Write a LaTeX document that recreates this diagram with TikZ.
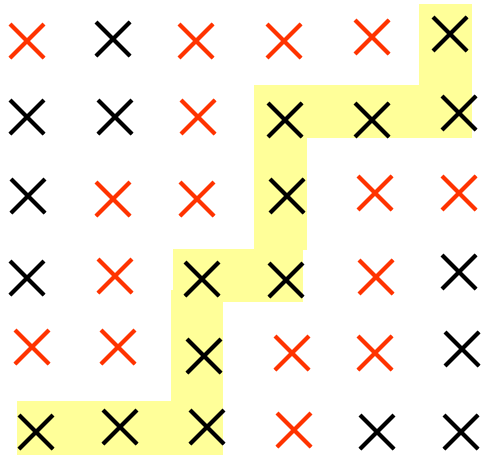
\documentclass[tikz,border=0pt]{standalone}
\usetikzlibrary{shapes.misc}
\definecolor{hl}{RGB}{255,255,153}
\definecolor{xred}{RGB}{255,51,0}
\tikzset{
  mk/.style={cross out, draw, line width=4pt, minimum size=34pt, inner sep=0pt, outer sep=0pt},
  rx/.style={mk, draw=xred},
  bx/.style={mk, draw=black},
  band/.style={fill=hl, draw=none}
}
\begin{document}
\begin{tikzpicture}[x=1pt,y=-1pt]
\useasboundingbox (0,0) rectangle (486,458);
% highlighted path
\fill[band] (419,4) rectangle (472,133);
\fill[band] (256,85) rectangle (472,138);
\fill[band] (254,85) rectangle (307,250);
\fill[band] (173,249) rectangle (303,302);
\fill[band] (171,290) rectangle (223,455);
\fill[band] (17,401) rectangle (222,455);
% row 1
\node[rx] (a1) at (27,41) {};
\node[bx] (b1) at (113,39) {};
\node[rx] (c1) at (196,41) {};
\node[rx] (d1) at (284,41) {};
\node[rx] (e1) at (372,37) {};
\node[bx] (f1) at (450,34) {};
% row 2
\node[bx] (a2) at (27,117) {};
\node[bx] (b2) at (115,117) {};
\node[rx] (c2) at (198,117) {};
\node[bx] (d2) at (285,120) {};
\node[bx] (e2) at (372,120) {};
\node[bx] (f2) at (459,113) {};
% row 3
\node[bx] (a3) at (28,196) {};
\node[rx] (b3) at (113,199) {};
\node[rx] (c3) at (197,199) {};
\node[bx] (d3) at (287,196) {};
\node[rx] (e3) at (375,193) {};
\node[rx] (f3) at (459,193) {};
% row 4
\node[bx] (a4) at (27,278) {};
\node[rx] (b4) at (115,276) {};
\node[bx] (c4) at (202,279) {};
\node[bx] (d4) at (286,280) {};
\node[rx] (e4) at (376,277) {};
\node[bx] (f4) at (459,272) {};
% row 5
\node[rx] (a5) at (32,347) {};
\node[rx] (b5) at (118,347) {};
\node[bx] (c5) at (204,356) {};
\node[rx] (d5) at (292,353) {};
\node[rx] (e5) at (375,353) {};
\node[bx] (f5) at (462,349) {};
% row 6
\node[bx] (a6) at (36,432) {};
\node[bx] (b6) at (120,427) {};
\node[bx] (c6) at (207,427) {};
\node[rx] (d6) at (294,430) {};
\node[bx] (e6) at (377,432) {};
\node[bx] (f6) at (461,432) {};
\end{tikzpicture}
\end{document}
